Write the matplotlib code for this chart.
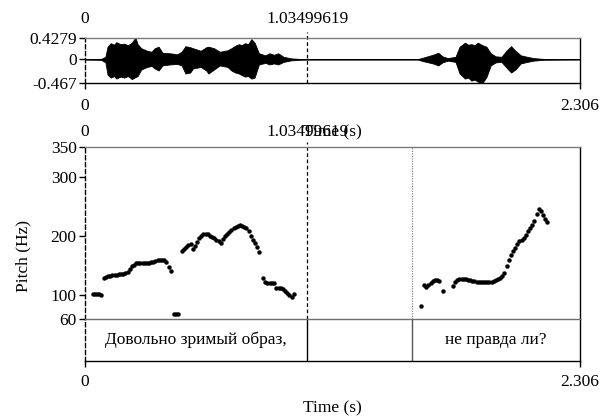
import matplotlib
matplotlib.use("Agg")
import matplotlib.pyplot as plt

plt.rcParams["font.family"] = ["Liberation Serif", "DejaVu Serif"]
plt.rcParams["font.size"] = 12.5

duration = 2.306
cursor = 1.03499619

# envelope of the sound wave (upper / lower amplitude)
wave_t = [0.0, 0.075, 0.095, 0.105, 0.12, 0.135, 0.146, 0.165, 0.182, 0.2, 0.218, 0.235,
          0.245, 0.262, 0.289, 0.31, 0.325, 0.343, 0.361, 0.396, 0.43, 0.45, 0.468, 0.49,
          0.503, 0.539, 0.565, 0.575, 0.601, 0.628, 0.664, 0.682, 0.7, 0.717, 0.73, 0.745,
          0.76, 0.775, 0.79, 0.81, 0.84, 0.86, 0.88, 0.9, 0.925, 0.96, 1.0, 1.04, 1.55,
          1.58, 1.62, 1.646, 1.665, 1.69, 1.726, 1.745, 1.77, 1.785, 1.8, 1.815, 1.83,
          1.851, 1.87, 1.89, 1.913, 1.94, 1.965, 1.985, 2.005, 2.03, 2.06, 2.09, 2.14, 2.306]
wave_top = [0.005, 0.01, 0.05, 0.25, 0.32, 0.29, 0.34, 0.30, 0.31, 0.28, 0.33, 0.43,
            0.30, 0.22, 0.17, 0.15, 0.22, 0.25, 0.13, 0.12, 0.10, 0.15, 0.26, 0.24,
            0.22, 0.17, 0.24, 0.25, 0.22, 0.15, 0.18, 0.22, 0.27, 0.30, 0.28, 0.32,
            0.30, 0.40, 0.33, 0.12, 0.08, 0.12, 0.09, 0.12, 0.05, 0.02, 0.008, 0.005, 0.005,
            0.04, 0.09, 0.13, 0.06, 0.025, 0.05, 0.25, 0.33, 0.29, 0.30, 0.28, 0.33,
            0.28, 0.25, 0.12, 0.06, 0.05, 0.18, 0.26, 0.17, 0.08, 0.05, 0.025, 0.008, 0.004]
wave_bottom = [-0.005, -0.01, -0.06, -0.30, -0.36, -0.33, -0.38, -0.34, -0.36, -0.33, -0.39, -0.35,
               -0.33, -0.20, -0.15, -0.13, -0.18, -0.22, -0.12, -0.10, -0.09, -0.12, -0.28, -0.26,
               -0.18, -0.15, -0.22, -0.28, -0.20, -0.12, -0.15, -0.22, -0.26, -0.28, -0.31, -0.34,
               -0.33, -0.38, -0.36, -0.10, -0.07, -0.10, -0.08, -0.10, -0.05, -0.02, -0.008, -0.005, -0.005,
               -0.04, -0.08, -0.12, -0.06, -0.025, -0.05, -0.28, -0.38, -0.36, -0.42, -0.40, -0.44,
               -0.47, -0.35, -0.12, -0.06, -0.05, -0.17, -0.26, -0.20, -0.08, -0.05, -0.025, -0.008, -0.004]

# pitch track, first phrase
pitch1_t = [0.035, 0.045, 0.055, 0.065, 0.075,
            0.088, 0.098, 0.108, 0.118, 0.128, 0.138, 0.148, 0.158, 0.168, 0.178,
            0.188, 0.198, 0.208, 0.218, 0.228, 0.238, 0.248, 0.258, 0.268, 0.278,
            0.288, 0.298, 0.308, 0.318, 0.328, 0.338, 0.348, 0.358, 0.368, 0.378,
            0.390, 0.402,
            0.415, 0.423, 0.431,
            0.452, 0.462, 0.472, 0.482, 0.492, 0.502, 0.512, 0.522, 0.532, 0.542,
            0.552, 0.562, 0.572, 0.582, 0.592, 0.602, 0.612, 0.622, 0.632, 0.642,
            0.652, 0.662, 0.672, 0.682, 0.692, 0.702, 0.712, 0.722, 0.732, 0.742,
            0.752, 0.762, 0.772, 0.782, 0.792, 0.802, 0.812,
            0.829, 0.840, 0.850, 0.860, 0.870, 0.880, 0.892, 0.902, 0.912, 0.922,
            0.932, 0.942, 0.952, 0.962, 0.972]
pitch1_hz = [103, 103, 103, 102, 101,
             130, 131, 132, 133, 134, 135, 135, 136, 136, 136,
             137, 140, 144, 149, 152, 154, 155, 155, 154, 154,
             154, 155, 156, 157, 158, 159, 159, 160, 159, 156,
             148, 141,
             68, 68, 68,
             175, 179, 182, 185, 186, 179, 183, 190, 196, 200,
             203, 204, 203, 201, 199, 196, 193, 191, 189, 195,
             200, 204, 207, 210, 213, 215, 217, 218, 217, 215,
             213, 209, 201, 194, 188, 181, 174,
             130, 122, 121, 121, 121, 120, 112, 112, 113, 110,
             107, 104, 101, 98, 102]

# pitch track, second phrase
pitch2_t = [1.566,
            1.580, 1.590, 1.600, 1.610, 1.620, 1.630, 1.640, 1.650, 1.667,
            1.714, 1.724, 1.734, 1.744, 1.754, 1.764, 1.774, 1.784, 1.794, 1.804,
            1.814, 1.824, 1.834, 1.844, 1.854, 1.864, 1.874, 1.884, 1.894, 1.904,
            1.914, 1.924, 1.934, 1.944, 1.954, 1.964, 1.974, 1.984, 1.994, 2.004,
            2.014, 2.024, 2.034, 2.044, 2.054, 2.064, 2.074, 2.084, 2.094, 2.104,
            2.114, 2.124, 2.134, 2.144, 2.154]
pitch2_hz = [82,
             117, 114, 117, 121, 124, 126, 126, 125, 108,
             116, 122, 126, 127, 127, 128, 127, 126, 126, 125,
             124, 123, 123, 123, 123, 123, 123, 122, 122, 124,
             126, 128, 130, 133, 138, 149, 160, 168, 175, 180,
             187, 191, 193, 196, 202, 208, 213, 219, 226, 238,
             246, 243, 235, 229, 223]

# text grid tier
tier_bounds = [0.0, cursor, 1.5256, duration]
tier_labels = ["Довольно зримый образ,", "", "не правда ли?"]

pitch_ticks = [60, 100, 200, 300, 350]
wave_ticks = [-0.467, 0, 0.4279]


def frame(ax, top_color):
    ax.spines["top"].set_color(top_color)
    ax.spines["left"].set_linestyle((0, (3, 2)))
    for s in ax.spines.values():
        s.set_linewidth(1.0)


fig = plt.figure(figsize=(6.03, 4.19), dpi=100)
W, H = 603, 419
left, width = 85 / W, 495 / W

# --- waveform ---
ax_w = fig.add_axes([left, 1 - 83 / H, width, 45.3 / H])
ax_w.fill_between(wave_t, wave_bottom, wave_top, color="black", lw=0.6)
ax_w.plot([0, duration], [0, 0], color="black", lw=0.7)
ax_w.axvline(cursor, ymin=0, ymax=1.13, color="black", lw=0.9, ls=(0, (3, 2)), clip_on=False)
ax_w.set_xlim(0, duration)
ax_w.set_ylim(wave_ticks[0], wave_ticks[-1])
ax_w.set_yticks(wave_ticks)
ax_w.set_yticklabels(["-0.467", "0", "0.4279"])
ax_w.set_xticks([0, duration])
ax_w.set_xticklabels(["0", "2.306"])
ax_w.tick_params(axis="y", length=4, width=1.0, pad=2)
ax_w.tick_params(axis="x", length=4, width=1.0, pad=7)
ax_w.set_xlabel("Time (s)", labelpad=7.5)
frame(ax_w, "#7a7a7a")
top_w = ax_w.secondary_xaxis("top")
top_w.set_xticks([0, cursor])
top_w.set_xticklabels(["0", "1.03499619"])
top_w.tick_params(length=0, pad=7.5)
top_w.spines["top"].set_visible(False)

# --- pitch ---
ax_p = fig.add_axes([left, 1 - 319 / H, width, (319 - 147.3) / H])
ax_p.plot(pitch1_t, pitch1_hz, "o", color="black", ms=3.2, mew=0)
ax_p.plot(pitch2_t, pitch2_hz, "o", color="black", ms=3.2, mew=0)
ax_p.axvline(cursor, ymin=0, ymax=1.03, color="black", lw=0.9, ls=(0, (3, 2)), clip_on=False)
ax_p.axvline(tier_bounds[2], color="#888888", lw=0.9, ls=(0, (1, 1)))
ax_p.set_xlim(0, duration)
ax_p.set_ylim(60, 350)
ax_p.set_yticks(pitch_ticks)
ax_p.set_xticks([])
ax_p.tick_params(length=4, width=1.0, pad=2)
frame(ax_p, "#7a7a7a")
ax_p.spines["bottom"].set_visible(False)
top_p = ax_p.secondary_xaxis("top")
top_p.set_xticks([0, cursor])
top_p.set_xticklabels(["0", "1.03499619"])
top_p.tick_params(length=0, pad=5)
top_p.spines["top"].set_visible(False)

# --- tier ---
ax_t = fig.add_axes([left, 1 - 361 / H, width, 42 / H])
ax_t.set_xlim(0, duration)
ax_t.set_ylim(0, 1)
ax_t.set_yticks([])
ax_t.set_xticks([0, duration])
ax_t.set_xticklabels(["0", "2.306"])
ax_t.tick_params(length=4, width=1.0, pad=5)
frame(ax_t, "#6e6e6e")
ax_t.axvline(tier_bounds[1], color="black", lw=1.0)
ax_t.axvline(tier_bounds[2], color="#555555", lw=1.0)
for a, b, lab in zip(tier_bounds[:-1], tier_bounds[1:], tier_labels):
    ax_t.text((a + b) / 2, 0.5, lab, ha="center", va="center")
ax_t.set_xlabel("Time (s)", labelpad=8)

fig.text(23 / W, 1 - 256 / H, "Pitch (Hz)", rotation=90, ha="center", va="center")

fig.savefig("out.png", dpi=100)
